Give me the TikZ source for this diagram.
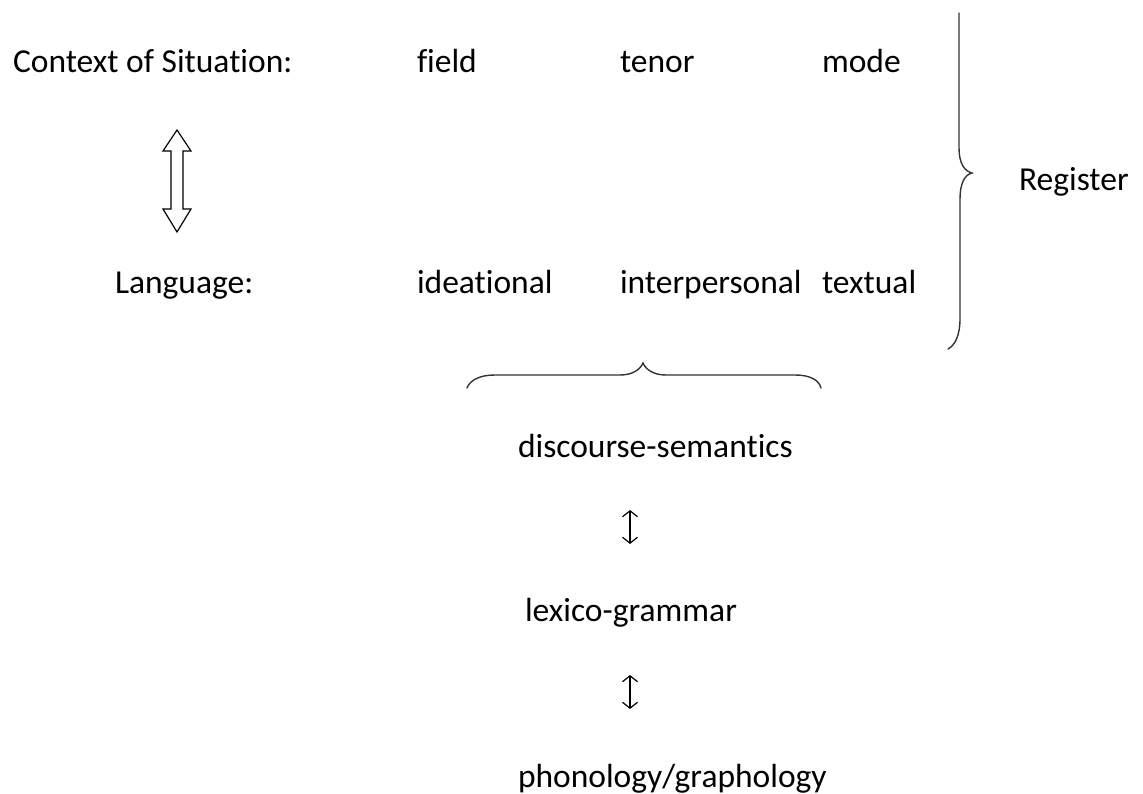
\documentclass[tikz,border=0pt]{standalone}
\usepackage{fontspec}
\setmainfont{Carlito}[Ligatures={NoCommon}]
\usetikzlibrary{arrows.meta}
\tikzset{
	lbl/.style={anchor=base west, inner sep=0pt, outer sep=0pt, font=\fontsize{33.5}{40}\selectfont},
	brace/.style={line width=1.4pt, color=black!80, line cap=round},
	updown/.style={line width=1.2pt, {Straight Barb[length=6pt,width=15pt]}-{Straight Barb[length=6pt,width=15pt]}}
}

\begin{document}
\begin{tikzpicture}[x=1pt, y=-1pt]
			%%%%% START %%%%%
			\useasboundingbox (0, 0) rectangle (1143, 794);
			
			\node[lbl] (ctx) at (13, 73) {Context of Situation:};
			\node[lbl] (field) at (417, 73) {field};
			\node[lbl] (tenor) at (620, 73) {tenor};
			\node[lbl] (mode) at (822, 73) {mode};
			
			\node[lbl] (lang) at (115, 294) {Language:};
			\node[lbl] (ideat) at (417, 294) {ideational};
			\node[lbl] (interp) at (620, 294) {interpersonal};
			\node[lbl] (textual) at (822, 294) {textual};
			
			\node[lbl] (register) at (1019, 191) {Register};
			
			\node[lbl] (dsem) at (518, 457) {discourse-semantics};
			\node[lbl] (lexgr) at (525, 621) {lexico-grammar};
			\node[lbl] (phon) at (518, 787) {phonology/graphology};
			
			% hollow double arrow
			\draw[line width=1.2pt] (177, 130) -- (191, 151) -- (183, 151) -- (183, 209) -- (191, 209) -- (177, 232)
				-- (163, 209) -- (171, 209) -- (171, 151) -- (163, 151) -- cycle;
			
			% braces
			\draw[brace] (959, 13) -- (959, 147) .. controls (959, 165) and (965, 171) .. (972, 173)
				.. controls (965, 175) and (960, 182) .. (960, 200) -- (960, 318)
				.. controls (960, 336) and (955, 345) .. (948, 349);
			\draw[brace] (467, 388) .. controls (470, 380) and (480, 375) .. (495, 375) -- (620, 375)
				.. controls (632, 375) and (640, 370) .. (643, 363)
				.. controls (646, 370) and (654, 375) .. (666, 375) -- (795, 375)
				.. controls (810, 375) and (819, 380) .. (821, 388);
			
			% small arrows
			\coordinate (a1) at (630, 510);
			\coordinate (b1) at (630, 544);
			\coordinate (a2) at (630, 675);
			\coordinate (b2) at (630, 709);
			\draw[updown] (a1) -- (b1);
			\draw[updown] (a2) -- (b2);
			%%%%% END %%%%%
\end{tikzpicture}
\end{document}
